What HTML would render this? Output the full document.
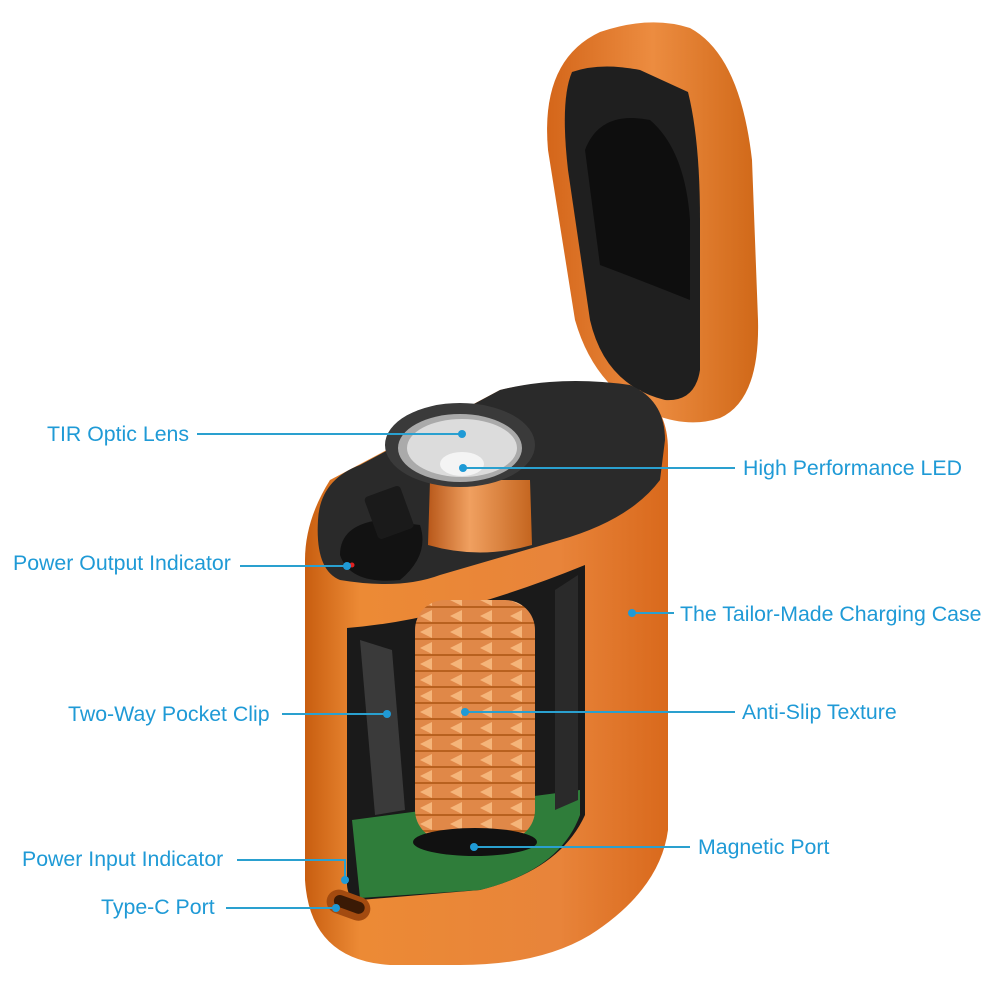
<!DOCTYPE html>
<html><head><meta charset="utf-8"><style>
html,body{margin:0;padding:0;background:#fff;width:1000px;height:1000px;overflow:hidden}
svg{display:block}
text{font-family:"Liberation Sans",sans-serif;font-size:21.3px;fill:#1f9ad6}
</style></head><body>
<svg width="1000" height="1000" viewBox="0 0 1000 1000">
<defs>
<linearGradient id="og" x1="0" x2="1" y1="0" y2="0">
<stop offset="0" stop-color="#c85e10"/><stop offset="0.15" stop-color="#ec8a35"/><stop offset="0.7" stop-color="#e8843a"/><stop offset="1" stop-color="#d9691c"/></linearGradient>
<linearGradient id="fl" x1="0" x2="1"><stop offset="0" stop-color="#b8581a"/><stop offset="0.4" stop-color="#f0a060"/><stop offset="1" stop-color="#c4651f"/></linearGradient>
<linearGradient id="lid" x1="0" x2="1"><stop offset="0" stop-color="#d4661a"/><stop offset="0.5" stop-color="#ec8c40"/><stop offset="1" stop-color="#d06818"/></linearGradient>
<pattern id="tex" width="30" height="16" patternUnits="userSpaceOnUse"><rect width="30" height="16" fill="#e08848"/><polygon points="0,8 12,2 12,14" fill="#f5b57a"/><line x1="0" y1="15" x2="30" y2="15" stroke="#b8611f" stroke-width="2"/></pattern>
</defs>
<!-- lid -->
<path d="M600 32 Q650 15 690 28 Q740 55 752 160 L758 320 Q760 400 720 418 Q690 428 655 415 Q595 390 575 320 L548 150 Q540 60 600 32Z" fill="url(#lid)"/>
<path d="M572 72 Q600 62 640 70 L688 92 Q700 140 700 220 L700 370 Q695 402 665 400 Q605 385 590 320 L568 170 Q560 100 572 72Z" fill="#1f1f1f"/>
<path d="M585 150 Q600 110 650 120 Q685 150 690 220 L690 300 Q640 280 600 265 Z" fill="#0e0e0e"/>
<!-- body -->
<path d="M305 560 Q305 520 330 480 L500 390 Q560 375 640 390 Q668 410 668 450 L668 830 Q660 890 590 935 Q540 965 460 965 L390 965 Q310 960 305 880Z" fill="url(#og)"/>
<!-- top dark surface -->
<path d="M318 520 Q320 480 360 465 L500 390 Q560 375 630 385 Q665 400 665 440 L660 480 Q630 520 560 540 L440 575 Q400 590 340 580 Q315 570 318 520Z" fill="#2a2a2a"/>
<path d="M340 555 Q340 525 380 520 L420 525 Q430 555 400 580 Q350 585 340 555Z" fill="#121212"/>
<rect x="370" y="490" width="38" height="45" rx="4" fill="#1a1a1a" transform="rotate(-20 389 512)"/>
<circle cx="352" cy="565" r="2.5" fill="#e02020"/>
<!-- window -->
<path d="M347 628 Q450 620 585 565 L585 815 Q560 870 480 890 L360 900 Q348 900 347 885Z" fill="#1a1a1a"/>
<path d="M352 820 L580 790 L580 815 Q560 870 480 890 L360 898 Z" fill="#2f7d3a"/>
<path d="M360 640 L392 650 L405 810 L375 815 Z" fill="#3a3a3a"/>
<path d="M555 590 L578 575 L578 800 L555 810Z" fill="#2a2a2a"/>
<!-- flashlight -->
<rect x="415" y="600" width="120" height="240" rx="30" fill="url(#tex)"/>
<ellipse cx="475" cy="842" rx="62" ry="14" fill="#111"/>
<path d="M430 480 L530 480 L532 545 Q480 560 428 545Z" fill="url(#fl)"/>
<ellipse cx="460" cy="445" rx="75" ry="42" fill="#3a3a3a"/>
<ellipse cx="460" cy="448" rx="62" ry="34" fill="#aaa"/>
<ellipse cx="462" cy="448" rx="55" ry="29" fill="#dcdcdc"/>
<ellipse cx="462" cy="464" rx="22" ry="12" fill="#f4f4f4"/>
<!-- type-c port -->
<rect x="326" y="893" width="45" height="24" rx="12" fill="#a34b10" transform="rotate(20 348 905)"/>
<rect x="333" y="898" width="32" height="12" rx="6" fill="#3a1a05" transform="rotate(20 348 905)"/>
<!-- leaders -->
<g stroke="#2aa0cf" stroke-width="2" fill="none">
<line x1="197" y1="434" x2="462" y2="434"/>
<line x1="463" y1="468" x2="735" y2="468"/>
<line x1="240" y1="566" x2="347" y2="566"/>
<line x1="632" y1="613" x2="674" y2="613"/>
<line x1="282" y1="714" x2="387" y2="714"/>
<line x1="465" y1="712" x2="735" y2="712"/>
<line x1="474" y1="847" x2="690" y2="847"/>
<polyline points="237,860 345,860 345,880"/>
<line x1="226" y1="908" x2="336" y2="908"/>
</g>
<g fill="#1f9ad6">
<circle cx="462" cy="434" r="4"/><circle cx="463" cy="468" r="4"/><circle cx="347" cy="566" r="4"/>
<circle cx="632" cy="613" r="4"/><circle cx="387" cy="714" r="4"/><circle cx="465" cy="712" r="4"/>
<circle cx="474" cy="847" r="4"/><circle cx="345" cy="880" r="4"/><circle cx="336" cy="908" r="4"/>
</g>
<text x="47" y="441">TIR Optic Lens</text>
<text x="743" y="475">High Performance LED</text>
<text x="13" y="570">Power Output Indicator</text>
<text x="680" y="621">The Tailor-Made Charging Case</text>
<text x="68" y="721">Two-Way Pocket Clip</text>
<text x="742" y="719">Anti-Slip Texture</text>
<text x="698" y="854">Magnetic Port</text>
<text x="22" y="866">Power Input Indicator</text>
<text x="101" y="914">Type-C Port</text>
</svg>
</body></html>
